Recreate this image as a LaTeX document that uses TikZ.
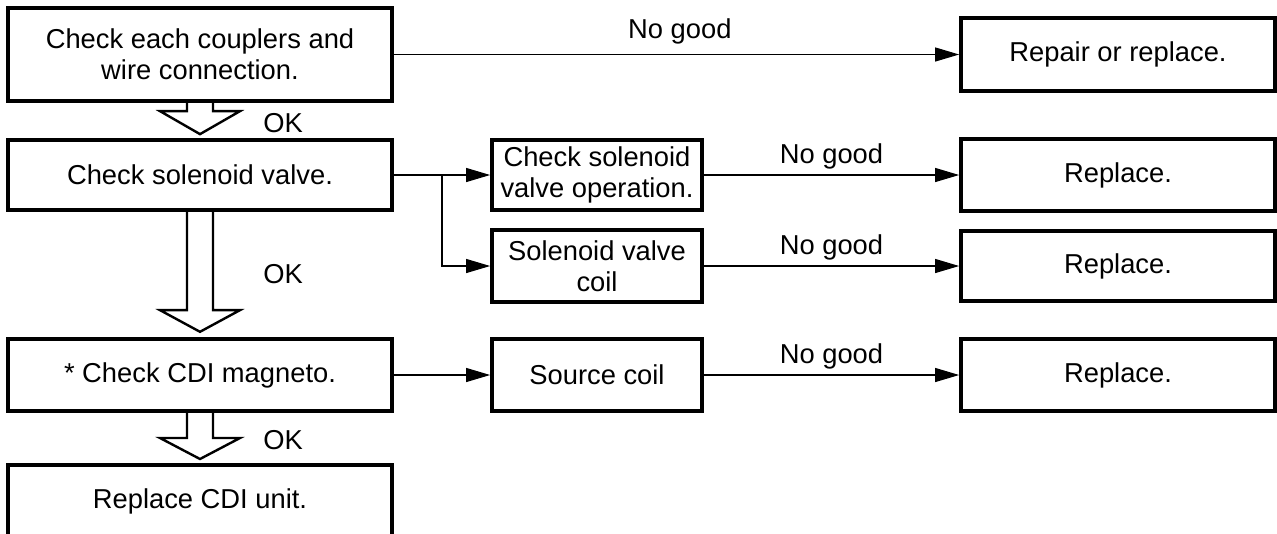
\documentclass[tikz,border=0pt]{standalone}
\usepackage{fontspec}
\setmainfont{Liberation Sans}
\usetikzlibrary{arrows.meta,calc}
\begin{document}
\begin{tikzpicture}[x=0.75pt,y=-0.75pt,
  txt/.style={font=\fontsize{20.5}{23.5}\selectfont, align=center, inner sep=0pt},
  box/.style={txt, draw, line width=2.8pt},
  frame/.style={line width=2.8pt},
  lbl/.style={font=\fontsize{20.5}{23.5}\selectfont, inner sep=0pt, anchor=base},
  conn/.style={line width=0.85pt, -{Triangle[length=18pt,width=10.5pt]}},
  hollow/.style={line width=1.8pt, line join=miter}]
\useasboundingbox (0,0) rectangle (1277,533);
% left column
\node[box, minimum width=288pt, minimum height=69.75pt] (b1) at (200,54.5) {Check each couplers and\\wire connection.};
\node[box, minimum width=288pt, minimum height=52.5pt] (b2) at (200,175) {Check solenoid valve.};
\node[box, minimum width=288pt, minimum height=54pt] (b3) at (200,375) {* Check CDI magneto.};
\node[txt, minimum width=288pt, minimum height=54pt, anchor=north] (b4) at (200,465) {Replace CDI unit.};
\draw[frame] (b4.south west) -- (b4.north west) -- (b4.north east) -- (b4.south east);
% middle column
\node[box, minimum width=157.5pt, minimum height=52.5pt] (c1) at (597,175) {Check solenoid\\valve operation.};
\node[box, minimum width=157.5pt, minimum height=54pt] (c2) at (597,266) {Solenoid valve\\coil};
\node[box, minimum width=157.5pt, minimum height=54pt] (c3) at (597,375) {Source coil};
% right column
\node[box, minimum width=235.5pt, minimum height=54.75pt] (r1) at (1118,54.5) {Repair or replace.};
\node[box, minimum width=235.5pt, minimum height=54pt] (r2) at (1118,175) {Replace.};
\node[box, minimum width=235.5pt, minimum height=52.5pt] (r3) at (1118,266) {Replace.};
\node[box, minimum width=235.5pt, minimum height=54pt] (r4) at (1118,375) {Replace.};
% connectors
\draw[conn] (b1) -- node[lbl, midway, yshift=12pt, xshift=2.5pt] {No good} (r1);
\draw[conn] (b2) -- (c1);
\coordinate (br) at (442,175);
\draw[conn] (br) |- (c2.west);
\draw[conn] (b3) -- (c3);
\draw[conn] (c1) -- node[lbl, midway, yshift=9pt] {No good} (r2);
\draw[conn] (c2) -- node[lbl, midway, yshift=9pt] {No good} (r3);
\draw[conn] (c3) -- node[lbl, midway, yshift=9pt] {No good} (r4);
% hollow arrows
\draw[hollow] let \p1=(b1.south), \p2=(b2.north) in
  (\x1-9.75pt,\y1) -- (\x1-9.75pt,\y2+20.25pt) -- (\x1-30pt,\y2+20.25pt) -- (\x1,\y2+3pt)
  -- (\x1+30pt,\y2+20.25pt) -- (\x1+9.75pt,\y2+20.25pt) -- (\x1+9.75pt,\y1);
\draw[hollow] let \p1=(b2.south), \p2=(b3.north) in
  (\x1-9.75pt,\y1) -- (\x1-9.75pt,\y2+20.25pt) -- (\x1-30pt,\y2+20.25pt) -- (\x1,\y2+4pt)
  -- (\x1+30pt,\y2+20.25pt) -- (\x1+9.75pt,\y2+20.25pt) -- (\x1+9.75pt,\y1);
\draw[hollow] let \p1=(b3.south), \p2=(b4.north) in
  (\x1-9.75pt,\y1) -- (\x1-9.75pt,\y2+20.25pt) -- (\x1-30pt,\y2+20.25pt) -- (\x1,\y2+4.5pt)
  -- (\x1+30pt,\y2+20.25pt) -- (\x1+9.75pt,\y2+20.25pt) -- (\x1+9.75pt,\y1);
% OK labels
\node[lbl, anchor=base west] (ok1) at (263,132) {OK};
\node[lbl, anchor=base west] (ok2) at (263,283) {OK};
\node[lbl, anchor=base west] (ok3) at (263,449) {OK};
\end{tikzpicture}
\end{document}
